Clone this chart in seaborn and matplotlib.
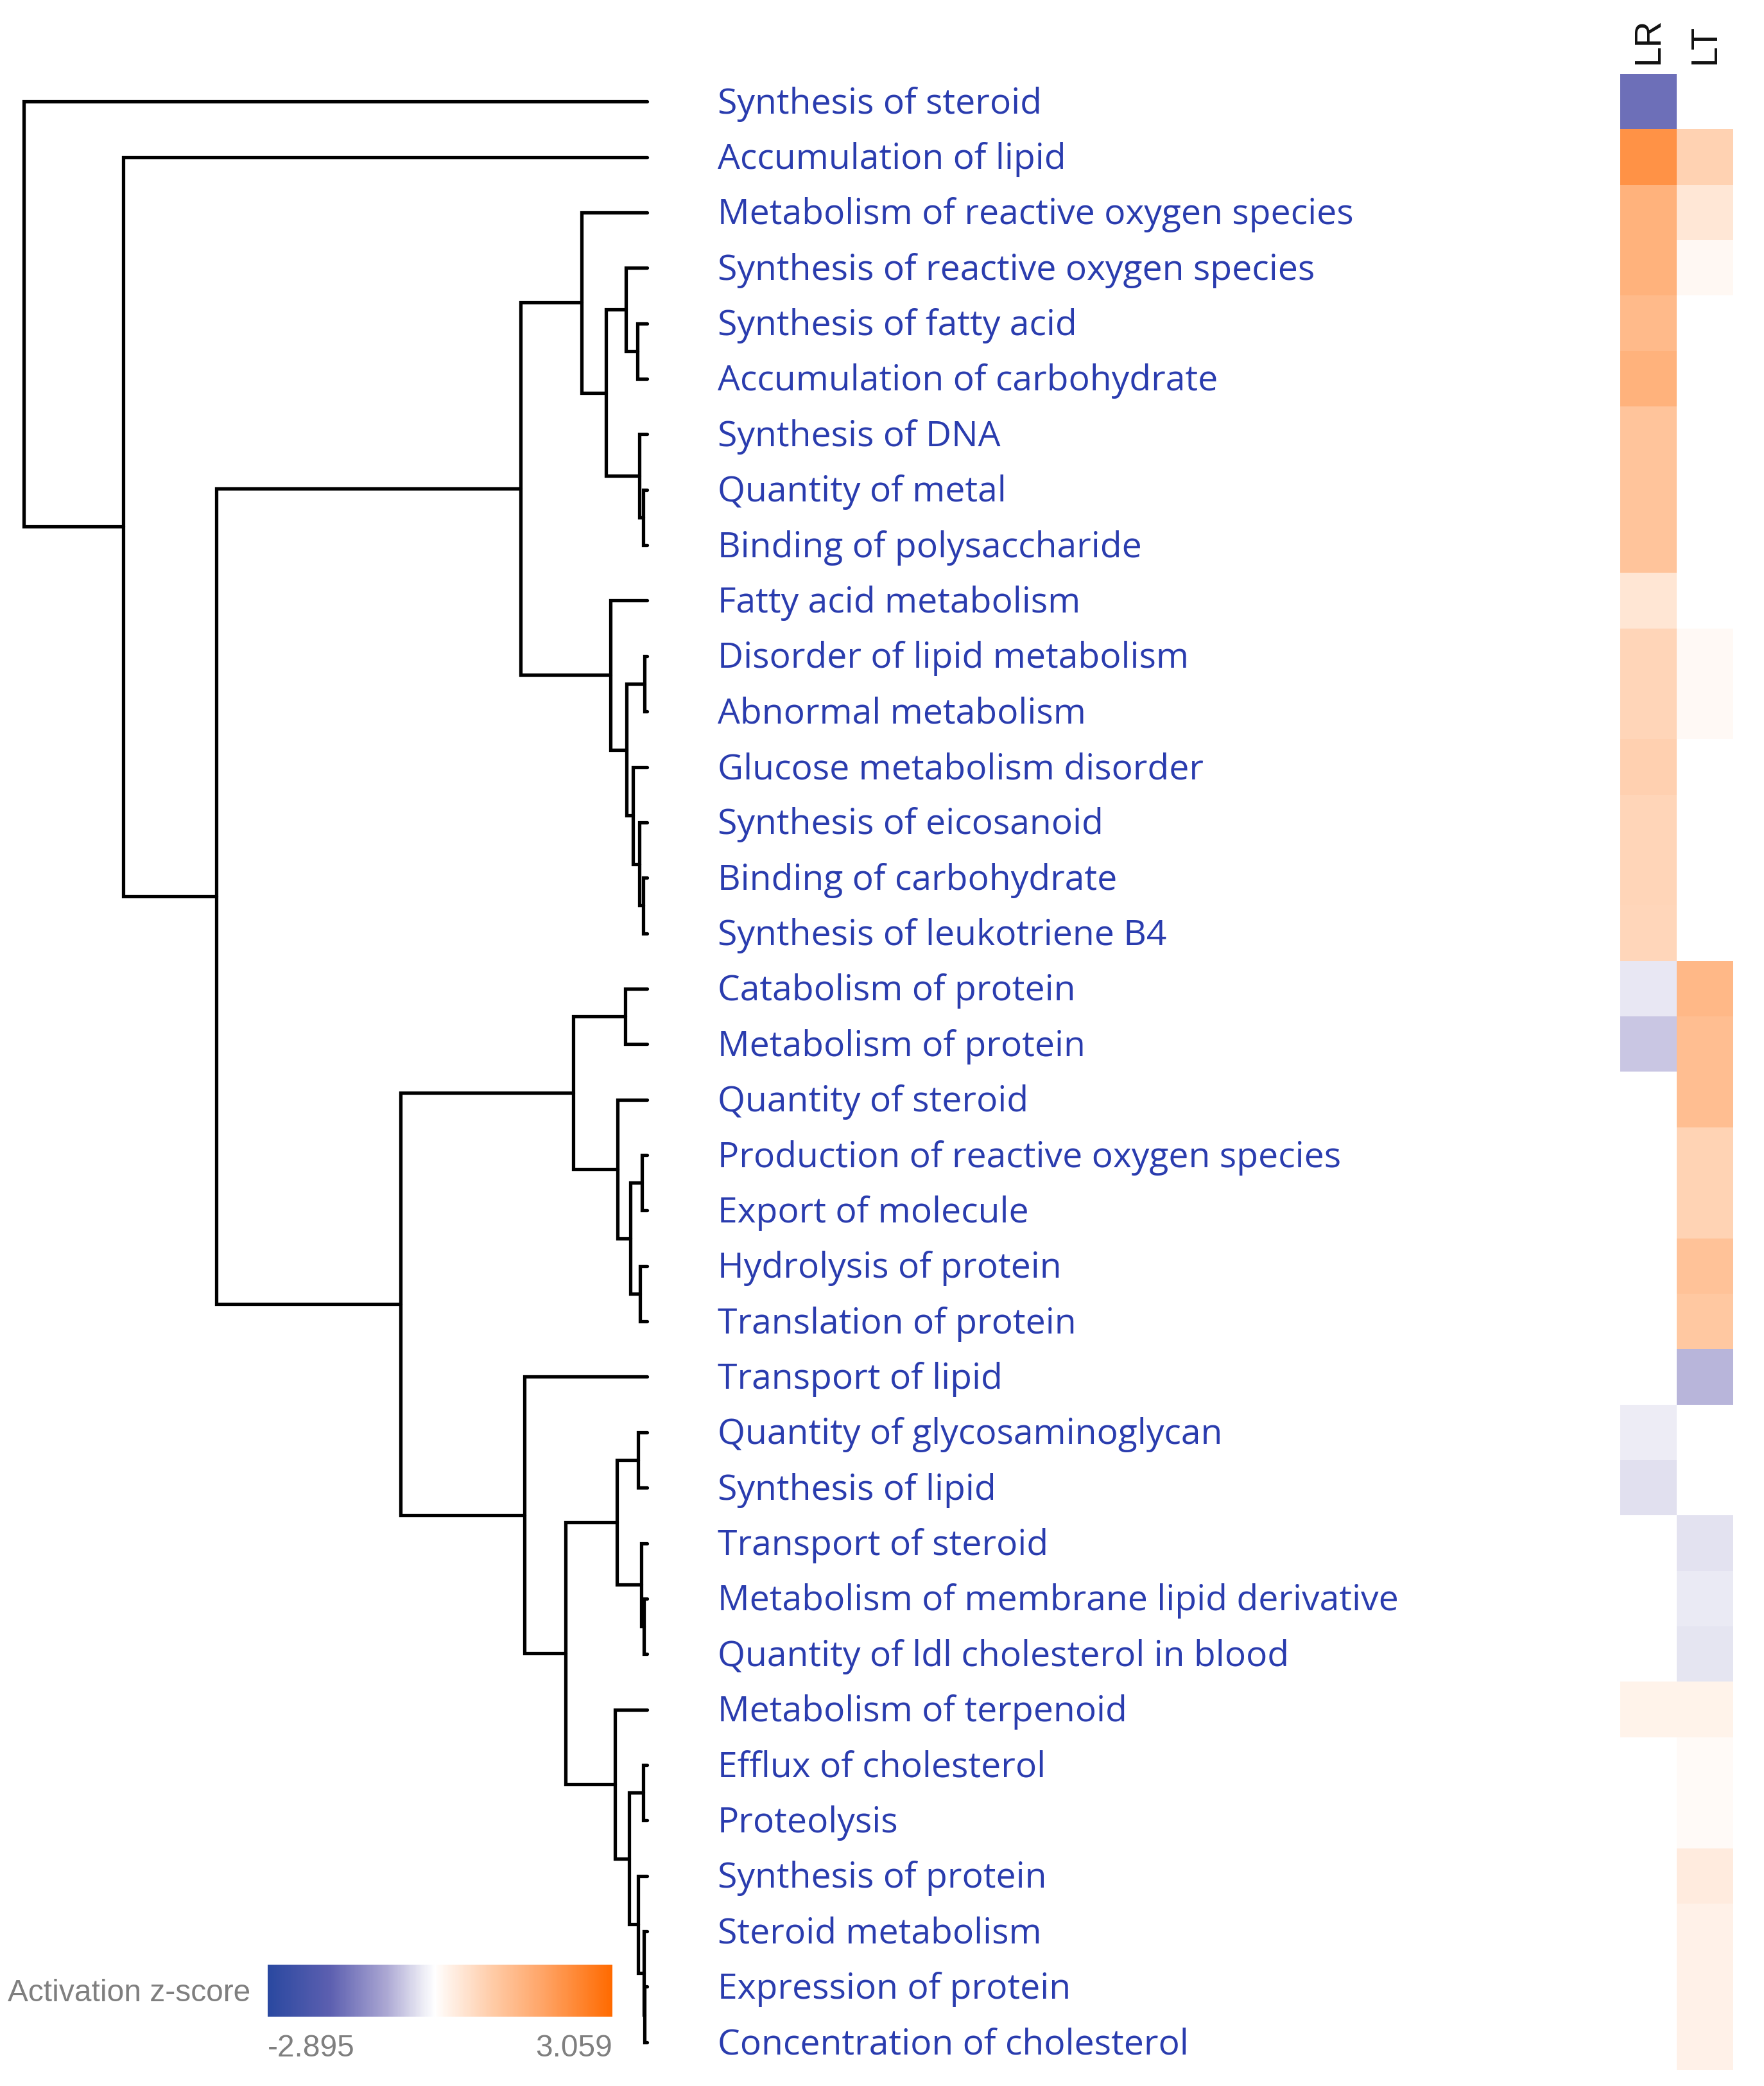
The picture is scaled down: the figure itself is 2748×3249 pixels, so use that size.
import numpy as np
import pandas as pd
import matplotlib
matplotlib.use("Agg")
import matplotlib.pyplot as plt
import seaborn as sns
from matplotlib.colors import LinearSegmentedColormap
from matplotlib.transforms import ScaledTranslation

# Row labels, top to bottom (dendrogram leaf order)
labels = [
    "Synthesis of steroid", "Accumulation of lipid",
    "Metabolism of reactive oxygen species", "Synthesis of reactive oxygen species",
    "Synthesis of fatty acid", "Accumulation of carbohydrate", "Synthesis of DNA",
    "Quantity of metal", "Binding of polysaccharide", "Fatty acid metabolism",
    "Disorder of lipid metabolism", "Abnormal metabolism", "Glucose metabolism disorder",
    "Synthesis of eicosanoid", "Binding of carbohydrate", "Synthesis of leukotriene B4",
    "Catabolism of protein", "Metabolism of protein", "Quantity of steroid",
    "Production of reactive oxygen species", "Export of molecule", "Hydrolysis of protein",
    "Translation of protein", "Transport of lipid", "Quantity of glycosaminoglycan",
    "Synthesis of lipid", "Transport of steroid", "Metabolism of membrane lipid derivative",
    "Quantity of ldl cholesterol in blood", "Metabolism of terpenoid", "Efflux of cholesterol",
    "Proteolysis", "Synthesis of protein", "Steroid metabolism", "Expression of protein",
    "Concentration of cholesterol",
]
columns = ["LR", "LT"]
nan = np.nan

# activation z-scores (nan = no value)
lr = [-1.60, 2.24, 1.56, 1.56, 1.38, 1.56, 1.15, 1.15, 1.15, 0.46,
      0.80, 0.80, 0.88, 0.80, 0.78, 0.76, -0.25, -0.56, nan, nan,
      nan, nan, nan, nan, -0.20, -0.33, nan, nan, nan, 0.22,
      nan, nan, nan, nan, nan, nan]
lt = [nan, 0.86, 0.45, 0.12, nan, nan, nan, nan, nan, nan,
      0.10, 0.10, nan, nan, nan, nan, 1.42, 1.28, 1.28, 0.84,
      0.84, 1.18, 1.06, -0.72, nan, nan, -0.30, -0.24, -0.28, 0.22,
      0.07, 0.07, 0.36, 0.24, 0.24, 0.24]

zmin, zmax = -2.895, 3.059

# dendrogram merges (leaf ids 0-35, merged nodes numbered from 36 up)
merge_left = [4, 3, 7, 6, 37, 2, 10, 14, 13, 12, 42, 9, 41,
              16, 19, 21, 50, 18, 49, 24, 27, 26, 55, 30, 34, 33, 32, 59, 29, 58, 23, 54, 48, 1, 0]
merge_right = [5, 36, 8, 38, 39, 40, 11, 15, 43, 44, 45, 46, 47,
               17, 20, 22, 51, 52, 53, 25, 28, 56, 57, 31, 35, 60, 61, 62, 63, 64, 65, 66, 67, 68, 69]
merge_height = [7.2, 16, 2.8, 6, 31, 49, 2, 3.1, 6, 10.8, 15.6, 27.5, 95,
                16.4, 4, 5.1, 12.3, 22, 55.5, 6.7, 2.5, 4.3, 22.7, 3, 2, 2.5, 6.7, 13.6, 24,
                61.1, 92.3, 185, 323.5, 393.5, 468]

df = pd.DataFrame({"LR": lr, "LT": lt}, index=labels)

cmap = LinearSegmentedColormap.from_list("zscore", [
    (0.0, "#2a48a0"), (0.18, "#5c5fb0"), (0.34, "#a9a5d2"), (0.46, "#f2f2f8"),
    (0.486, "#ffffff"), (0.51, "#fff6f0"), (0.65, "#ffcca8"), (0.80, "#ffa466"),
    (1.0, "#ff6a00")])

sns.set_theme(style="white")
plt.rcParams["font.family"] = ["Open Sans", "DejaVu Sans"]

W, H = 2748, 3249
fig = plt.figure(figsize=(W / 100, H / 100), dpi=100)
fig.patch.set_facecolor("white")

top_px, bot_px = 115, 3224
ax_h = fig.add_axes([2524 / W, 1 - bot_px / H, (2700 - 2524) / W, (bot_px - top_px) / H])
ax_d = fig.add_axes([37.5 / W, 1 - bot_px / H, (1008 - 37.5) / W, (bot_px - top_px) / H])
cax = fig.add_axes([417 / W, 1 - 3141 / H, (954 - 417) / W, 81 / H])

sns.heatmap(df, ax=ax_h, cmap=cmap, vmin=zmin, vmax=zmax, cbar_ax=cax,
            cbar_kws={"orientation": "horizontal"}, xticklabels=True, yticklabels=True)

# column headers on top
ax_h.xaxis.tick_top()
ax_h.tick_params(axis="x", length=0, pad=11)
for t in ax_h.get_xticklabels():
    t.set_rotation(90)
    t.set_fontsize(41)
    t.set_family("Liberation Sans")
    t.set_color("#111111")
    t.set_va("bottom")

# row labels, left aligned far left of the heatmap
ax_h.tick_params(axis="y", length=0, pad=(2524 - 1118) * 0.72)
shift = ScaledTranslation(0, -4 / 100, fig.dpi_scale_trans)
for t in ax_h.get_yticklabels():
    t.set_ha("left")
    t.set_color("#2a3cae")
    t.set_fontsize(40)
    t.set_rotation(0)
    t.set_transform(t.get_transform() + shift)
ax_h.set_xlabel("")
ax_h.set_ylabel("")

# fit label font size to the width of the longest label
fig.canvas.draw()
r = fig.canvas.get_renderer()
longest = [t for t in ax_h.get_yticklabels() if t.get_text() == "Metabolism of membrane lipid derivative"][0]
w = longest.get_window_extent(r).width
fs = 40 * 1058 / w
for t in ax_h.get_yticklabels():
    t.set_fontsize(fs)

# dendrogram
n = len(labels)
ypos = {i: i + 0.5 for i in range(n)}
hgt = {i: 0.0 for i in range(n)}
for k, (a, b, h) in enumerate(zip(merge_left, merge_right, merge_height)):
    node = n + k
    ypos[node] = (ypos[a] + ypos[b]) / 2
    hgt[node] = h
    ax_d.plot([hgt[a], h, h, hgt[b]], [ypos[a], ypos[a], ypos[b], ypos[b]],
              color="black", lw=3.8, solid_joinstyle="miter", clip_on=False)
ax_d.set_xlim(max(merge_height), 0)
ax_d.set_ylim(n, 0)
ax_d.axis("off")

# colour bar
cb = ax_h.collections[0].colorbar
cb.outline.set_visible(False)
cax.set_xticks([])
cax.set_yticks([])
gray = "#7f7f7f"
cax.text(0, -0.33, "-2.895", transform=cax.transAxes, ha="left", va="top",
         fontsize=34.5, color=gray, family="Liberation Sans")
cax.text(1, -0.33, "3.059", transform=cax.transAxes, ha="right", va="top",
         fontsize=34.5, color=gray, family="Liberation Sans")
cax.text(-0.05, 0.45, "Activation z-score", transform=cax.transAxes, ha="right", va="center",
         fontsize=34.5, color=gray, family="Liberation Sans")

fig.savefig("out.png", dpi=100, facecolor="white")
